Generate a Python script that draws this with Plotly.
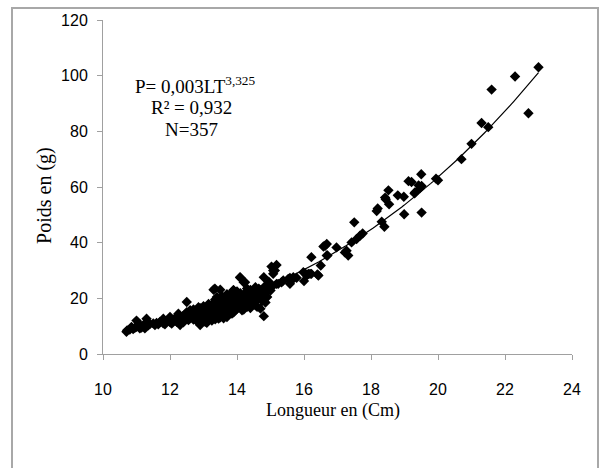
import numpy as np
import plotly.graph_objects as go

length_small = [10.7, 10.72, 10.8, 10.85, 10.9, 10.95, 11.0, 11.0, 11.05, 11.1, 11.1, 11.15, 11.2, 11.25,
                11.3, 11.3, 11.35, 11.4, 11.5, 11.55, 11.6, 11.65, 11.7, 11.8, 11.8, 11.85, 11.9, 11.95,
                12.0, 12.0, 12.05, 12.1, 12.15, 12.2, 12.25, 12.25, 12.3, 12.3, 12.35, 12.4, 12.4, 12.45]
weight_small = [8.0, 8.5, 8.8, 9.7, 9.0, 9.4, 12.0, 9.8, 10.2, 9.2, 10.6, 9.5, 10.0, 9.2,
                12.7, 11.5, 10.3, 10.8, 11.0, 10.4, 11.2, 10.7, 11.5, 12.7, 11.0, 10.7, 11.8, 12.2,
                13.3, 11.5, 10.9, 12.3, 12.8, 11.6, 14.5, 12.0, 10.4, 13.2, 12.6, 13.8, 11.4, 14.2]

length_cluster_a = [12.5, 12.5, 12.5, 12.55, 12.6, 12.6, 12.65, 12.7, 12.7, 12.75, 12.8, 12.8, 12.85,
                    12.9, 12.9, 12.9, 12.95, 13.0, 13.0, 13.0, 13.05, 13.1, 13.1, 13.1, 13.15, 13.2,
                    13.2, 13.2, 13.25, 13.3, 13.3, 13.3, 13.35, 13.35, 13.4, 13.4, 13.45, 13.45, 13.5,
                    13.5, 13.5, 13.55, 13.6, 13.6, 13.6, 13.65, 13.7, 13.7, 13.7, 13.75, 13.8, 13.8,
                    13.85, 13.9, 13.9, 13.9, 13.95, 14.0, 14.0, 14.0, 14.05, 14.1, 14.1, 14.15, 14.15,
                    14.2, 14.2, 14.25, 14.3, 14.3, 14.35, 14.4, 14.4, 14.45, 14.5, 14.5, 14.55, 14.6,
                    14.6, 14.65, 14.7, 14.7, 14.75, 14.8, 14.8, 14.85]
weight_cluster_a = [18.7, 13.0, 15.0, 12.2, 15.7, 13.6, 14.4, 12.4, 16.0, 13.5, 14.8, 11.8, 15.4,
                    10.4, 13.2, 16.5, 14.2, 15.0, 12.3, 17.2, 13.8, 11.2, 16.0, 14.5, 18.0, 15.3,
                    12.8, 17.0, 14.0, 23.1, 16.2, 13.4, 18.5, 15.0, 17.5, 14.2, 12.7, 16.5, 23.1,
                    19.0, 15.5, 17.8, 14.0, 18.8, 16.4, 20.0, 13.3, 17.2, 19.5, 15.6, 18.3, 21.0,
                    16.8, 22.9, 19.2, 15.0, 17.7, 20.5, 18.0, 16.2, 21.5, 19.0, 27.4, 15.7, 20.8,
                    25.8, 18.5, 22.0, 20.0, 17.0, 21.2, 19.3, 23.0, 18.0, 20.8, 22.5, 17.5, 21.5,
                    19.8, 23.5, 16.3, 20.5, 22.0, 13.6, 27.6, 18.5]

length_cluster_b = [12.6, 12.7, 12.75, 12.8, 12.85, 12.9, 12.95, 13.0, 13.05, 13.05, 13.1, 13.15, 13.15,
                    13.2, 13.25, 13.25, 13.3, 13.34, 13.35, 13.35, 13.4, 13.4, 13.45, 13.5, 13.5, 13.55,
                    13.55, 13.6, 13.65, 13.65, 13.7, 13.75, 13.75, 13.8, 13.8, 13.85, 13.85, 13.89, 13.9,
                    13.95, 13.95, 14.0, 14.05, 14.05, 14.09, 14.1, 14.1, 14.15, 14.2, 14.2, 14.24, 14.25,
                    14.3, 14.35, 14.4, 14.45, 14.5, 14.55, 14.6, 14.65, 14.7, 14.75, 14.8, 14.85, 14.88,
                    14.9, 14.9, 14.93, 14.95, 15.0, 15.0]
weight_cluster_b = [12.8, 14.0, 15.6, 13.2, 16.8, 14.6, 12.0, 13.6, 16.3, 11.6, 12.7, 14.8, 13.0,
                    16.3, 12.0, 17.8, 14.6, 23.5, 12.5, 19.6, 16.0, 20.5, 14.8, 13.2, 17.0, 15.0,
                    20.8, 12.8, 17.5, 15.3, 21.5, 18.5, 14.2, 16.5, 19.8, 22.0, 14.5, 22.9, 17.3,
                    20.3, 15.8, 22.5, 17.4, 19.5, 27.6, 16.8, 21.8, 18.2, 16.0, 20.5, 25.8, 19.0,
                    23.5, 18.5, 16.5, 21.0, 18.8, 24.0, 17.0, 20.0, 22.8, 19.0, 21.0, 24.5, 20.5,
                    20.5, 22.9, 22.9, 26.0, 22.8, 24.0]

length_large = [15.03, 15.08, 15.08, 15.18, 15.18, 15.23, 15.33, 15.03, 15.13, 15.38, 15.53, 15.58,
                15.58, 15.63, 15.68, 15.78, 15.98, 16.0, 16.03, 16.08, 16.13, 16.18, 16.22, 16.22,
                16.4, 16.43, 16.5, 16.58, 16.63, 16.68, 16.68, 16.7, 16.97, 17.22, 17.27, 17.32,
                17.42, 17.5, 17.57, 17.67, 17.75, 18.17, 18.2, 18.32, 18.4, 18.42, 18.44, 18.52,
                18.54, 18.8, 18.98, 18.99, 19.12, 19.21, 19.3, 19.31, 19.42, 19.46, 19.5, 19.51,
                19.51, 19.94, 20.0, 20.7, 21.0, 21.3, 21.5, 21.6, 22.3, 22.7, 23.0]
weight_large = [31.4, 30.0, 28.8, 32.0, 25.2, 25.2, 25.8, 24.0, 30.0, 26.4, 27.0, 25.2,
                27.3, 26.4, 27.6, 27.4, 29.4, 26.2, 29.0, 28.2, 28.8, 28.8, 28.8, 34.8,
                28.6, 28.2, 31.8, 38.6, 38.9, 39.5, 35.4, 35.4, 38.3, 36.5, 37.1, 35.4,
                40.1, 47.3, 41.3, 42.5, 43.3, 51.4, 52.3, 47.5, 45.7, 56.2, 55.6, 58.8,
                53.8, 57.0, 56.5, 50.2, 62.1, 61.8, 57.7, 58.0, 60.6, 59.5, 64.6, 60.4,
                50.8, 63.0, 62.4, 70.0, 75.5, 83.0, 81.5, 95.0, 99.7, 86.5, 103.0]

length = length_small + length_cluster_a + length_cluster_b + length_large
weight = weight_small + weight_cluster_a + weight_cluster_b + weight_large

# Power fit shown on the chart: P = 0.003 * L^3.325
fit_a = 0.003
fit_b = 3.325
fit_range = [10.7, 23.0]

x_ticks = [10, 12, 14, 16, 18, 20, 22, 24]
y_ticks = [0, 20, 40, 60, 80, 100, 120]

fit_x = np.linspace(fit_range[0], fit_range[1], 200)
fit_y = fit_a * fit_x ** fit_b

fig = go.Figure()
fig.add_trace(go.Scatter(x=length, y=weight, mode="markers",
                         marker=dict(symbol="diamond", size=8, color="black",
                                     line=dict(width=0)),
                         showlegend=False, hoverinfo="x+y"))
fig.add_trace(go.Scatter(x=fit_x, y=fit_y, mode="lines",
                         line=dict(color="black", width=1.2),
                         showlegend=False, hoverinfo="skip"))

axis_col = "#a0a0a0"
tick_font = dict(family="Liberation Sans Narrow, Liberation Sans, Arial", size=16, color="black")
serif = "Liberation Serif, Times New Roman, serif"

fig.update_xaxes(range=[10, 24], tickvals=x_ticks, ticktext=[str(v) for v in x_ticks],
                 showgrid=False, zeroline=False, showline=True, linecolor=axis_col, linewidth=1,
                 ticks="outside", ticklen=5, tickcolor=axis_col, tickfont=tick_font,
                 ticklabelstandoff=16)
fig.update_yaxes(range=[0, 120], tickvals=y_ticks, ticktext=[str(v) for v in y_ticks],
                 showgrid=False, zeroline=False, showline=True, linecolor=axis_col, linewidth=1,
                 ticks="outside", ticklen=5, tickcolor=axis_col, tickfont=tick_font,
                 ticklabelstandoff=6)

# pixel helpers (plot area 103..572 x, 18..354 y)
L, R, T, B = 103, 572, 18, 354
def px(xp):
    return (xp - L) / (R - L)
def py(yp):
    return (B - yp) / (B - T)

annotations = [
    dict(text="P= 0,003LT<sup>3,325</sup>", x=px(195), y=py(83)),
    dict(text="R² = 0,932", x=px(191), y=py(106)),
    dict(text="N=357", x=px(191), y=py(128)),
]
for a in annotations:
    fig.add_annotation(xref="paper", yref="paper", xanchor="center", yanchor="middle",
                       showarrow=False, font=dict(family=serif, size=19, color="black"), **a)

fig.add_annotation(xref="paper", yref="paper", x=px(333), y=py(411), text="Longueur en (Cm)",
                   showarrow=False, xanchor="center", yanchor="middle",
                   font=dict(family=serif, size=18, color="black"))
fig.add_annotation(xref="paper", yref="paper", x=px(45), y=py(195), text="Poids en (g)",
                   showarrow=False, xanchor="center", yanchor="middle", textangle=-90,
                   font=dict(family=serif, size=20, color="black"))

fig.add_shape(type="rect", xref="paper", yref="paper",
              x0=px(12), x1=px(598), y0=py(475), y1=py(6),
              line=dict(color="#a8a8a8", width=2), fillcolor="rgba(0,0,0,0)", layer="below")

fig.update_layout(width=600, height=468, margin=dict(l=L, r=600 - R, t=T, b=468 - B),
                  plot_bgcolor="white", paper_bgcolor="white")

fig.write_html("out.html", config={"displayModeBar": False},
               post_script="document.body.style.margin='0';document.body.style.overflow='hidden';")
